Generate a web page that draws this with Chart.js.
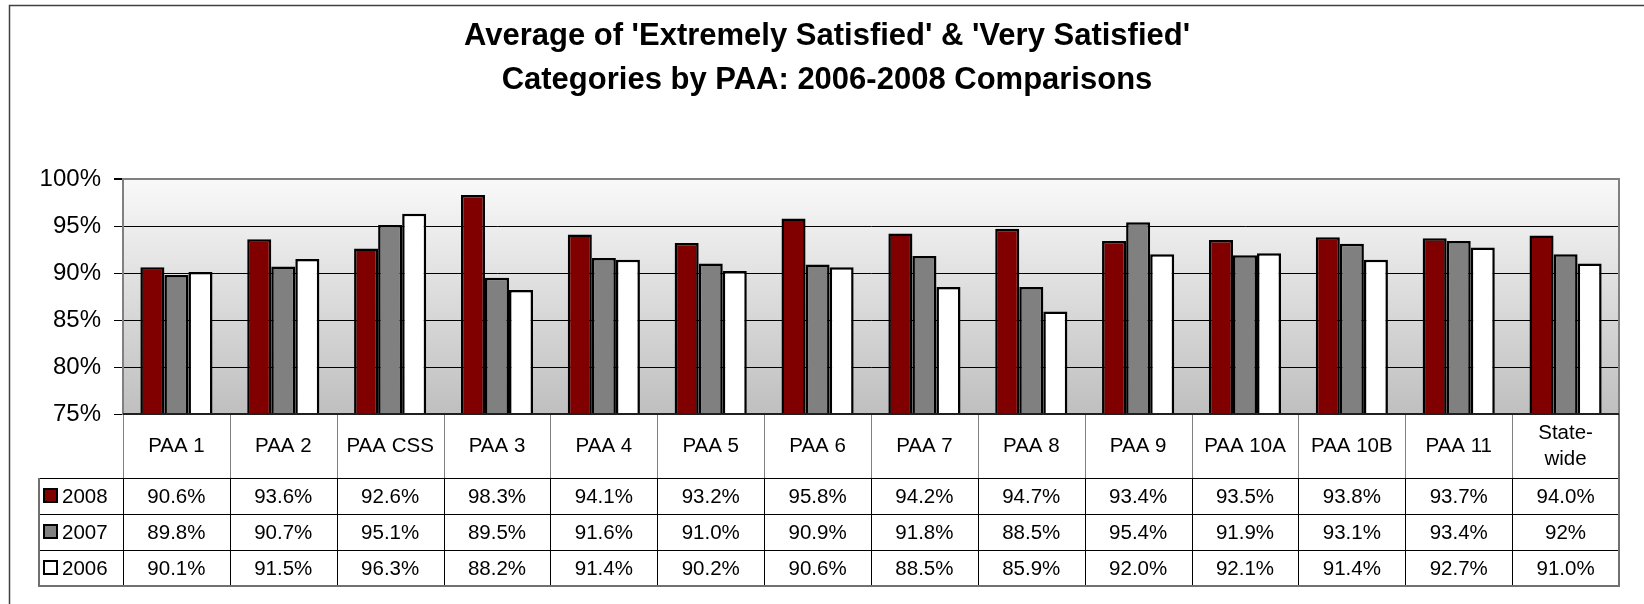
<!DOCTYPE html>
<html>
<head>
<meta charset="utf-8">
<script src="https://cdn.jsdelivr.net/npm/chart.js@4.4.1/dist/chart.umd.min.js"></script>
<style>
html, body { margin: 0; padding: 0; background: #fff; }
</style>
</head>
<body>
<canvas id="myChart" width="1644" height="604"></canvas>
<script>
const categories = ['PAA 1', 'PAA 2', 'PAA CSS', 'PAA 3', 'PAA 4', 'PAA 5', 'PAA 6',
    'PAA 7', 'PAA 8', 'PAA 9', 'PAA 10A', 'PAA 10B', 'PAA 11', ['State-', 'wide']];
const years = ['2008', '2007', '2006'];
const values2008 = [90.6, 93.6, 92.6, 98.3, 94.1, 93.2, 95.8, 94.2, 94.7, 93.4, 93.5, 93.8, 93.7, 94.0];
const values2007 = [89.8, 90.7, 95.1, 89.5, 91.6, 91.0, 90.9, 91.8, 88.5, 95.4, 91.9, 93.1, 93.4, 92.0];
const values2006 = [90.1, 91.5, 96.3, 88.2, 91.4, 90.2, 90.6, 88.5, 85.9, 92.0, 92.1, 91.4, 92.7, 91.0];

const fmt = v => v.toFixed(1) + '%';
const labels2008 = values2008.map(fmt);
const labels2007 = values2007.map(fmt);
labels2007[13] = '92%'; // the source table shows this one without a decimal
const labels2006 = values2006.map(fmt);
const tableLabels = [labels2008, labels2007, labels2006];

const barColors = ['#800000', '#808080', '#ffffff'];
const FONT = 'Arial, "Liberation Sans", sans-serif';

const ctx = document.getElementById('myChart').getContext('2d');

// background, outer frame, plot gradient and the data table under the bars
const frame = {
    id: 'frame',
    beforeDraw(chart) {
        const c = chart.ctx, a = chart.chartArea;
        c.save();
        c.fillStyle = '#fff';
        c.fillRect(0, 0, chart.width, chart.height);
        c.strokeStyle = '#404040';
        c.lineWidth = 1.5;
        c.strokeRect(9.5, 5.5, chart.width + 20, chart.height + 20);
        const g = c.createLinearGradient(0, a.top, 0, a.bottom);
        g.addColorStop(0, '#f9f9f9');
        g.addColorStop(1, '#bfbfbf');
        c.fillStyle = g;
        c.fillRect(a.left, a.top, a.width, a.height);
        c.restore();
    },
    beforeDatasetsDraw(chart) {
        const c = chart.ctx, a = chart.chartArea;
        c.save();
        c.strokeStyle = '#808080';
        c.lineWidth = 2;
        c.beginPath();
        c.moveTo(a.left, a.top);
        c.lineTo(a.right, a.top);
        c.lineTo(a.right, a.bottom);
        c.stroke();
        c.restore();
    },
    afterDraw(chart) {
        const c = chart.ctx, a = chart.chartArea, x = chart.scales.x;
        const colW = a.width / categories.length;
        const headTop = a.bottom, headBot = a.bottom + 64, rowH = 36;
        const tableBot = headBot + rowH * years.length;
        const legLeft = 39;
        c.save();
        // lines
        c.lineWidth = 1;
        c.strokeStyle = '#000';
        c.beginPath();
        for (let r = 0; r < years.length; r++) {
            const y = Math.round(headBot + rowH * r) + 0.5;
            c.moveTo(legLeft, y); c.lineTo(a.right, y);
        }
        for (let i = 0; i < categories.length; i++) {
            const xl = Math.round(x.getPixelForValue(i) - colW / 2) + 0.5;
            c.moveTo(xl, headBot); c.lineTo(xl, tableBot);
        }
        c.stroke();
        c.strokeStyle = '#808080';
        c.beginPath();
        for (let i = 0; i < categories.length; i++) {
            const xl = Math.round(x.getPixelForValue(i) - colW / 2) + 0.5;
            c.moveTo(xl, headTop); c.lineTo(xl, headBot);
        }
        c.stroke();
        c.lineWidth = 2;
        c.strokeStyle = '#707070';
        c.beginPath();
        c.moveTo(legLeft, headBot); c.lineTo(legLeft, tableBot); c.lineTo(a.right, tableBot);
        c.lineTo(a.right, headTop);
        c.stroke();
        c.strokeStyle = '#202020';
        c.beginPath();
        c.moveTo(a.left, headTop); c.lineTo(a.right, headTop);
        c.stroke();

        // text
        c.fillStyle = '#000';
        c.font = '20.5px ' + FONT;
        c.textAlign = 'center';
        c.textBaseline = 'middle';
        categories.forEach((cat, i) => {
            const cx = x.getPixelForValue(i);
            const lines = Array.isArray(cat) ? cat : [cat];
            lines.forEach((t, k) => {
                c.fillText(t, cx, (headTop + headBot) / 2 + (k - (lines.length - 1) / 2) * 26);
            });
            tableLabels.forEach((lab, r) => {
                c.fillText(lab[i], cx, headBot + rowH * r + rowH / 2 + 1);
            });
        });
        // legend keys
        c.textAlign = 'left';
        years.forEach((yr, r) => {
            const cy = headBot + rowH * r + rowH / 2;
            c.fillStyle = barColors[r];
            c.fillRect(44, cy - 7, 13, 13);
            c.strokeStyle = '#000';
            c.lineWidth = 2;
            c.strokeRect(44, cy - 7, 13, 13);
            c.fillStyle = '#000';
            c.fillText(yr, 62, cy + 1);
        });
        c.restore();
    }
};

const config = {
    type: 'bar',
    data: {
        labels: categories,
        datasets: [{
            label: years[0],
            data: values2008,
            backgroundColor: barColors[0]
        }, {
            label: years[1],
            data: values2007,
            backgroundColor: barColors[1]
        }, {
            label: years[2],
            data: values2006,
            backgroundColor: barColors[2]
        }]
    },
    options: {
        responsive: false,
        animation: false,
        devicePixelRatio: 1,
        layout: { padding: { top: 0, left: 10, right: 0, bottom: 190 } },
        datasets: {
            bar: {
                categoryPercentage: 0.675,
                barPercentage: 1.0,
                borderColor: '#000',
                borderWidth: 2.5,
                borderSkipped: false
            }
        },
        scales: {
            x: { display: false },
            y: {
                min: 75,
                max: 100,
                afterFit: s => { s.width = 113; },
                ticks: {
                    stepSize: 5,
                    callback: v => v + '%',
                    color: '#000',
                    padding: 13,
                    font: { family: FONT, size: 24 }
                },
                grid: {
                    color: c => (c.tick && c.tick.value === 100) ? '#808080' : '#000',
                    lineWidth: c => (c.tick && c.tick.value === 100) ? 2 : 1,
                    tickColor: '#000',
                    tickLength: 9
                },
                border: { color: '#808080', width: 2 }
            },
            // empty right-hand axis, only keeps the margin at the right of the plot
            yRight: {
                position: 'right',
                afterFit: s => { s.width = 25; },
                ticks: { display: false },
                grid: { display: false },
                border: { display: false }
            }
        },
        plugins: {
            legend: { display: false },
            tooltip: { enabled: false },
            title: {
                display: true,
                text: ["Average of 'Extremely Satisfied' & 'Very Satisfied'",
                       'Categories by PAA: 2006-2008 Comparisons'],
                color: '#000',
                font: { family: FONT, size: 31, weight: 'bold', lineHeight: 44 / 31 },
                padding: { top: 14, bottom: 77 }
            }
        }
    },
    plugins: [frame]
};

const myChart = new Chart(ctx, config);
</script>
</body>
</html>
